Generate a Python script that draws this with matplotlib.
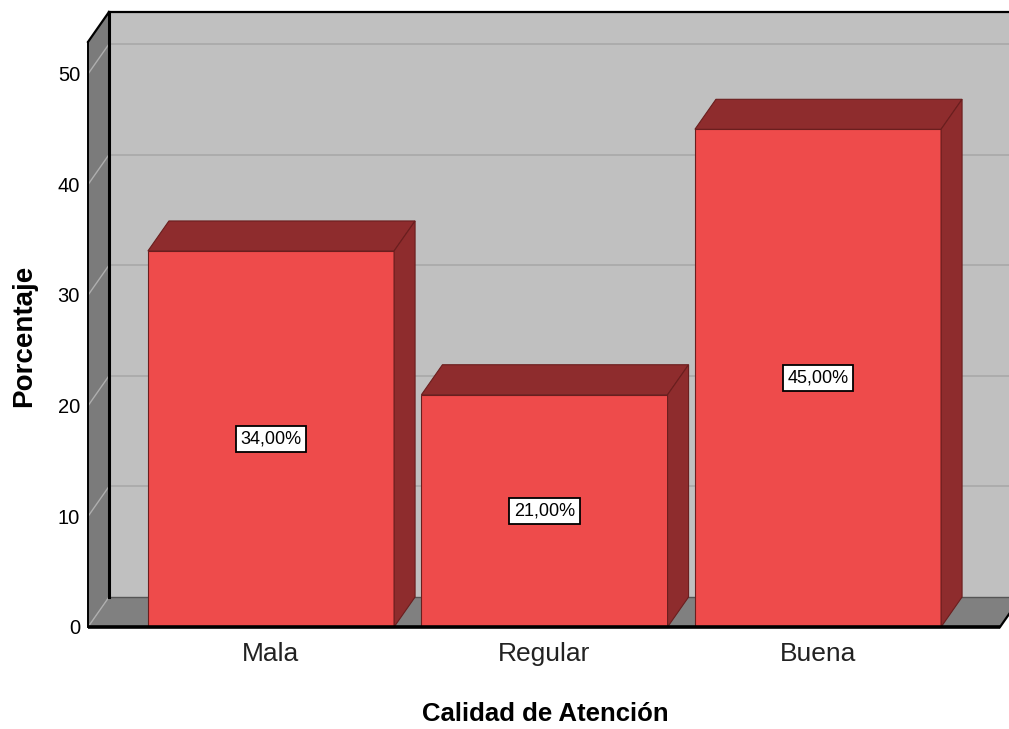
import matplotlib
matplotlib.use("Agg")
import matplotlib.pyplot as plt
from matplotlib.patches import Polygon

# ---- data ----
categories = ["Mala", "Regular", "Buena"]
percentages = [34.0, 21.0, 45.0]
y_ticks = [0, 10, 20, 30, 40, 50]
x_title = "Calidad de Atención"
y_title = "Porcentaje"

plt.rcParams["font.family"] = ["Liberation Sans", "DejaVu Sans"]

# ---- colours ----
BAR_FRONT = "#EE4B4B"
BAR_DARK = "#8E2C2D"
BAR_EDGE = "#6A1E1E"
BACK_WALL = "#C0C0C0"
SIDE_WALL = "#7B7B7B"
FLOOR = "#808080"
GRID_BACK = "#A9A9A9"
GRID_SIDE = "#AEAEAE"

# ---- pseudo-3D frame geometry (data units) ----
W, H, DPI = 1009, 729, 100
X0_PX, X_STEP_PX = 271.0, 273.5      # category centre / spacing in pixels
Y0_PX, Y_STEP_PX = 627.0, 11.06      # baseline / pixels per percent
BAR_W = 0.9
DX = 21 / X_STEP_PX                  # depth offset
DY = 30 / Y_STEP_PX
XL = (88 - X0_PX) / X_STEP_PX        # left wall front edge
XR = (1000 - X0_PX) / X_STEP_PX      # floor front right corner
XFAR = (1040 - X0_PX) / X_STEP_PX
TOP = 52.9                           # wall height

fig = plt.figure(figsize=(W / DPI, H / DPI), dpi=DPI)
ax = fig.add_axes([0, 0, 1, 1])
ax.set_xlim(-X0_PX / X_STEP_PX, (W - X0_PX) / X_STEP_PX)
ax.set_ylim((Y0_PX - H) / Y_STEP_PX, Y0_PX / Y_STEP_PX)
ax.axis("off")

# back wall, side wall, floor
ax.add_patch(Polygon([(XL + DX, DY), (XFAR, DY), (XFAR, TOP + DY), (XL + DX, TOP + DY)],
                     closed=True, fc=BACK_WALL, ec="none", zorder=1))
ax.add_patch(Polygon([(XL, 0), (XL, TOP), (XL + DX, TOP + DY), (XL + DX, DY)],
                     closed=True, fc=SIDE_WALL, ec="none", zorder=1))
ax.add_patch(Polygon([(XL, 0), (XR, 0), (XR + DX, DY), (XL + DX, DY)],
                     closed=True, fc=FLOOR, ec="none", zorder=1))

# grid lines on the walls
for v in y_ticks:
    if v > 0:
        ax.plot([XL + DX, XFAR], [v + DY, v + DY], color=GRID_BACK, lw=1.2, zorder=1.5)
    ax.plot([XL, XL + DX], [v, v + DY], color=GRID_SIDE, lw=1.0, zorder=1.5)

# frame edges
ax.plot([XL + DX, XFAR], [DY, DY], color="#555555", lw=1.0, zorder=1.6)
ax.plot([XL + DX, XL + DX], [DY, TOP + DY], color="black", lw=2.2, zorder=1.7)
ax.plot([XL + DX, XFAR], [TOP + DY, TOP + DY], color="black", lw=1.6, zorder=1.7)
ax.plot([XL, XL + DX], [TOP, TOP + DY], color="black", lw=1.6, zorder=1.7)
ax.plot([XL, XL], [0, TOP], color="black", lw=1.4, zorder=1.7)
ax.plot([XR, XR + DX], [0, DY], color="black", lw=1.6, zorder=1.7)

# bars with top and side faces
xs = list(range(len(categories)))
ax.bar(xs, percentages, width=BAR_W, color=BAR_FRONT, edgecolor=BAR_EDGE,
       linewidth=0.8, zorder=3)
for x, v in zip(xs, percentages):
    l, r = x - BAR_W / 2, x + BAR_W / 2
    ax.add_patch(Polygon([(l, v), (r, v), (r + DX, v + DY), (l + DX, v + DY)],
                         closed=True, fc=BAR_DARK, ec=BAR_EDGE, lw=0.8, zorder=3))
    ax.add_patch(Polygon([(r, 0), (r + DX, DY), (r + DX, v + DY), (r, v)],
                         closed=True, fc=BAR_DARK, ec=BAR_EDGE, lw=0.8, zorder=3))
    label = f"{v:.2f}%".replace(".", ",")
    ax.text(x, v / 2, label, ha="center", va="center", fontsize=13, zorder=5,
            bbox=dict(boxstyle="square,pad=0.25", fc="white", ec="black", lw=1.3))

# front baseline
ax.plot([XL, XR], [0, 0], color="black", lw=2.6, zorder=4, solid_capstyle="butt")

# y tick labels
for v in y_ticks:
    ax.text((80 - X0_PX) / X_STEP_PX, v - 0.15, str(v), ha="right", va="center",
            fontsize=14.5, zorder=5)

# category labels
for x, c in zip(xs, categories):
    ax.text(x, (Y0_PX - 654) / Y_STEP_PX, c, ha="center", va="center",
            fontsize=19, color="#222222", zorder=5)

# axis titles
ax.text((545 - X0_PX) / X_STEP_PX, (Y0_PX - 714) / Y_STEP_PX, x_title,
        ha="center", va="center", fontsize=18.5, fontweight="bold")
ax.text((24 - X0_PX) / X_STEP_PX, (Y0_PX - 336) / Y_STEP_PX, y_title,
        ha="center", va="center", fontsize=20, fontweight="bold", rotation=90)

fig.savefig("out.png", dpi=DPI)
